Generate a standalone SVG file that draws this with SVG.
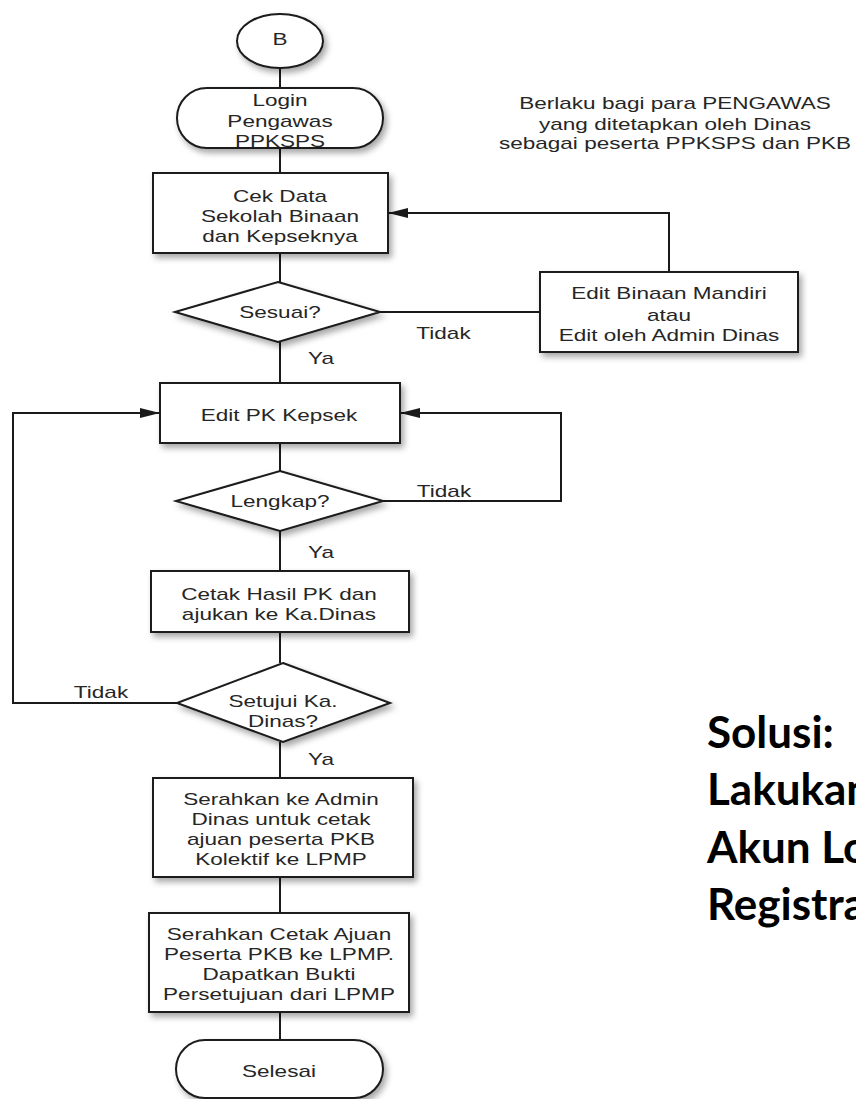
<svg xmlns="http://www.w3.org/2000/svg" width="856" height="1099" viewBox="0 0 856 1099">
<defs>
<filter id="sh" x="-20%" y="-20%" width="150%" height="160%">
<feDropShadow dx="3" dy="4" stdDeviation="3" flood-color="#000" flood-opacity="0.35"/>
</filter>
<marker id="ah" markerUnits="userSpaceOnUse" markerWidth="22" markerHeight="12" refX="20" refY="5" orient="auto">
<path d="M0,0 L20,5 L0,10 z" fill="#1a1a1a"/>
</marker>
<style>
.s{fill:#fff;stroke:#1a1a1a;stroke-width:2;filter:url(#sh)}
.c{fill:none;stroke:#1a1a1a;stroke-width:2}
.t{font-family:"Liberation Sans",Arial,sans-serif;font-size:16px;fill:#262626;text-anchor:middle}
.b{font-family:Lato,"Open Sans",sans-serif;font-weight:bold;font-size:44px;fill:#000}
</style>
</defs>
<rect width="856" height="1099" fill="#fff"/>

<g id="connectors">
<path class="c" d="M280,68 V88"/>
<path class="c" d="M280,148 V173"/>
<path class="c" d="M280,253 V282"/>
<path class="c" d="M380,312 H540"/>
<path class="c" d="M669,272 V213 H388" marker-end="url(#ah)"/>
<path class="c" d="M280,342 V383"/>
<path class="c" d="M280,443 V471"/>
<path class="c" d="M383,501 H561 V413 H400" marker-end="url(#ah)"/>
<path class="c" d="M280,531 V571"/>
<path class="c" d="M280,632 V663"/>
<path class="c" d="M177,703 H13 V413 H160" marker-end="url(#ah)"/>
<path class="c" d="M280,742 V778"/>
<path class="c" d="M280,877 V913"/>
<path class="c" d="M280,1012 V1040"/>
</g>

<g id="labels">
<text class="t" transform="translate(443.5 339) scale(1.41 1)">Tidak</text>
<text class="t" transform="translate(321 364) scale(1.41 1)">Ya</text>
<text class="t" transform="translate(444 497) scale(1.41 1)">Tidak</text>
<text class="t" transform="translate(321 558) scale(1.41 1)">Ya</text>
<text class="t" transform="translate(101 698) scale(1.41 1)">Tidak</text>
<text class="t" transform="translate(321 765) scale(1.41 1)">Ya</text>
</g>

<g id="note">
<text class="t" transform="translate(675 0) scale(1.41 1)"><tspan x="0" y="109">Berlaku bagi para PENGAWAS</tspan><tspan x="0" y="130">yang ditetapkan oleh Dinas</tspan><tspan x="0" y="149">sebagai peserta PPKSPS dan PKB</tspan></text>
</g>

<g id="start">
<ellipse class="s" cx="280" cy="41" rx="43" ry="27"/>
<text class="t" transform="translate(280 45) scale(1.41 1)">B</text>
</g>

<g id="login">
<rect class="s" x="177" y="88" width="206" height="60" rx="30"/>
<text class="t" transform="translate(280 0) scale(1.41 1)"><tspan x="0" y="106">Login</tspan><tspan x="0" y="127">Pengawas</tspan><tspan x="0" y="147">PPKSPS</tspan></text>
</g>

<g id="cekdata">
<rect class="s" x="153" y="173" width="235" height="80"/>
<text class="t" transform="translate(280 0) scale(1.41 1)"><tspan x="0" y="202">Cek Data</tspan><tspan x="0" y="222">Sekolah Binaan</tspan><tspan x="0" y="242">dan Kepseknya</tspan></text>
</g>

<g id="sesuai">
<polygon class="s" points="278,282 380,312 278,342 175,312"/>
<text class="t" transform="translate(280 318) scale(1.41 1)">Sesuai?</text>
</g>

<g id="editbinaan">
<rect class="s" x="540" y="272" width="258" height="80"/>
<text class="t" transform="translate(669 0) scale(1.41 1)"><tspan x="0" y="299">Edit Binaan Mandiri</tspan><tspan x="0" y="321">atau</tspan><tspan x="0" y="341">Edit oleh Admin Dinas</tspan></text>
</g>

<g id="editpk">
<rect class="s" x="160" y="383" width="240" height="60"/>
<text class="t" transform="translate(279 421) scale(1.41 1)">Edit PK Kepsek</text>
</g>

<g id="lengkap">
<polygon class="s" points="280,471 383,501 280,531 176,501"/>
<text class="t" transform="translate(280 507) scale(1.41 1)">Lengkap?</text>
</g>

<g id="cetak">
<rect class="s" x="151" y="571" width="258" height="61"/>
<text class="t" transform="translate(279 0) scale(1.41 1)"><tspan x="0" y="600">Cetak Hasil PK dan</tspan><tspan x="0" y="620">ajukan ke Ka.Dinas</tspan></text>
</g>

<g id="setujui">
<polygon class="s" points="283,663 390,703 283,742 177,703"/>
<text class="t" transform="translate(283 0) scale(1.41 1)"><tspan x="0" y="707">Setujui Ka.</tspan><tspan x="0" y="727">Dinas?</tspan></text>
</g>

<g id="serahkan1">
<rect class="s" x="153" y="778" width="260" height="99"/>
<text class="t" transform="translate(281 0) scale(1.41 1)"><tspan x="0" y="805">Serahkan ke Admin</tspan><tspan x="0" y="825">Dinas untuk cetak</tspan><tspan x="0" y="845">ajuan peserta PKB</tspan><tspan x="0" y="865">Kolektif ke LPMP</tspan></text>
</g>

<g id="serahkan2">
<rect class="s" x="149" y="913" width="260" height="99"/>
<text class="t" transform="translate(279 0) scale(1.41 1)"><tspan x="0" y="940">Serahkan Cetak Ajuan</tspan><tspan x="0" y="960">Peserta PKB ke LPMP.</tspan><tspan x="0" y="980">Dapatkan Bukti</tspan><tspan x="0" y="1000">Persetujuan dari LPMP</tspan></text>
</g>

<g id="selesai">
<rect class="s" x="176" y="1040" width="207" height="58" rx="29"/>
<text class="t" transform="translate(279 1077) scale(1.41 1)">Selesai</text>
</g>

<g id="solusi">
<text class="b" x="707" y="748">Solusi:</text>
<text class="b" x="707" y="805">Lakukan</text>
<text class="b" x="707" y="863">Akun Lo</text>
<text class="b" x="707" y="920">Registra</text>
</g>
</svg>
